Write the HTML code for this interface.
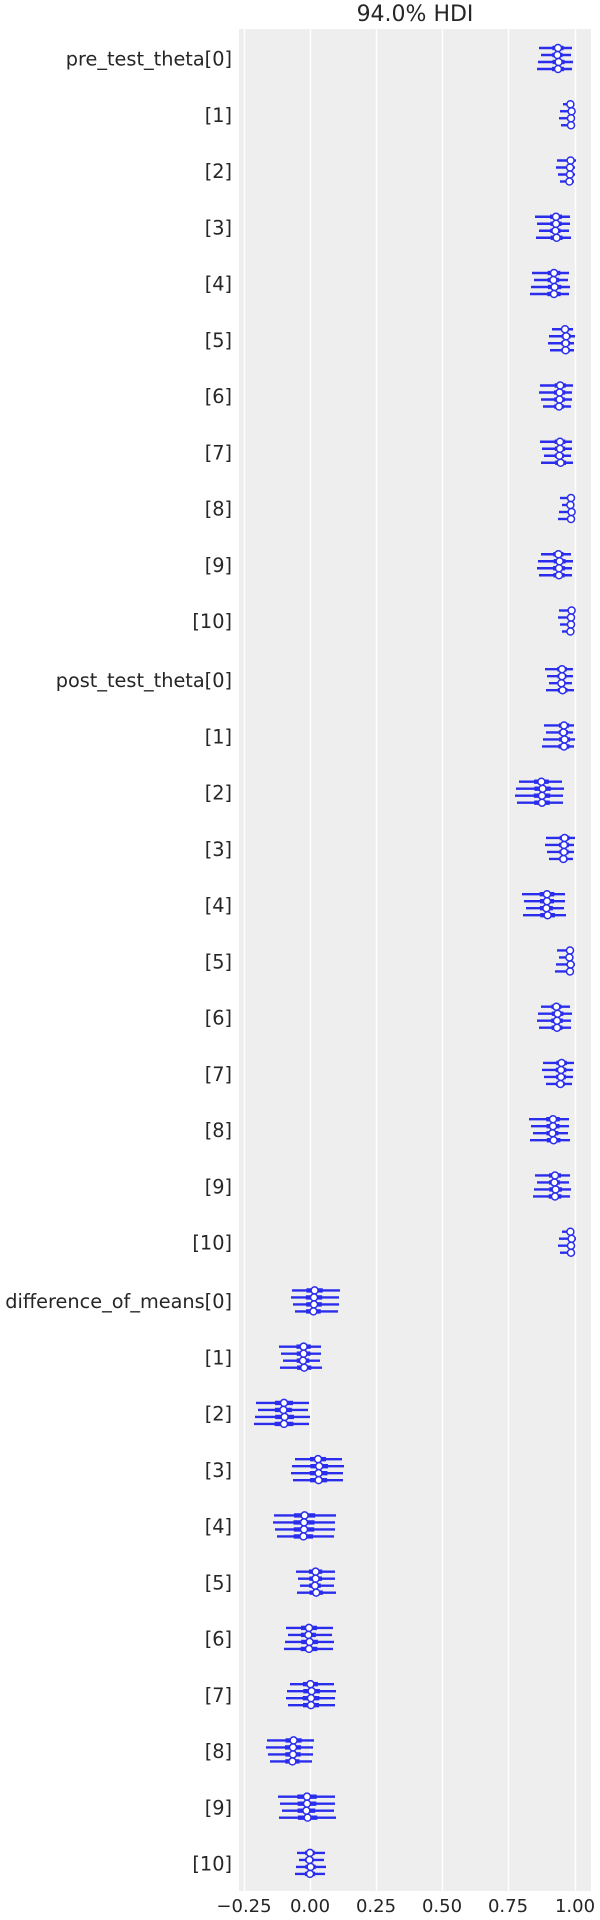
<!DOCTYPE html>
<html><head><meta charset="utf-8"><style>
html,body{margin:0;padding:0;background:#fff;width:600px;height:1920px;overflow:hidden}
svg{display:block}
text{font-family:"DejaVu Sans","Liberation Sans",sans-serif;fill:#262626}
</style></head><body>
<svg id="s" width="600" height="1920" viewBox="0 0 600 1920" xmlns="http://www.w3.org/2000/svg">
<rect x="239" y="29" width="352" height="1862" fill="#eeeeee"/>
<g stroke="#ffffff" stroke-width="1.5">
<line x1="244.5" y1="29" x2="244.5" y2="1891"/>
<line x1="310.5" y1="29" x2="310.5" y2="1891"/>
<line x1="376.5" y1="29" x2="376.5" y2="1891"/>
<line x1="442.5" y1="29" x2="442.5" y2="1891"/>
<line x1="508.5" y1="29" x2="508.5" y2="1891"/>
<line x1="575.5" y1="29" x2="575.5" y2="1891"/>
</g>
<text x="415" y="21" font-size="22" text-anchor="middle">94.0% HDI</text>
<g font-size="18" text-anchor="middle">
<text x="244" y="1912">−0.25</text>
<text x="310" y="1912">0.00</text>
<text x="376" y="1912">0.25</text>
<text x="442" y="1912">0.50</text>
<text x="508" y="1912">0.75</text>
<text x="575" y="1912">1.00</text>
</g>
<g font-size="19.3" text-anchor="end">
<text x="232" y="65.5">pre_test_theta[0]</text>
<text x="232" y="121.8">[1]</text>
<text x="232" y="178">[2]</text>
<text x="232" y="234.3">[3]</text>
<text x="232" y="290.5">[4]</text>
<text x="232" y="346.8">[5]</text>
<text x="232" y="403">[6]</text>
<text x="232" y="459.3">[7]</text>
<text x="232" y="515.5">[8]</text>
<text x="232" y="571.8">[9]</text>
<text x="232" y="628">[10]</text>
<text x="232" y="687">post_test_theta[0]</text>
<text x="232" y="743.3">[1]</text>
<text x="232" y="799.5">[2]</text>
<text x="232" y="855.8">[3]</text>
<text x="232" y="912">[4]</text>
<text x="232" y="968.3">[5]</text>
<text x="232" y="1024.5">[6]</text>
<text x="232" y="1080.8">[7]</text>
<text x="232" y="1137">[8]</text>
<text x="232" y="1193.3">[9]</text>
<text x="232" y="1249.5">[10]</text>
<text x="232" y="1308">difference_of_means[0]</text>
<text x="232" y="1364.3">[1]</text>
<text x="232" y="1420.5">[2]</text>
<text x="232" y="1476.8">[3]</text>
<text x="232" y="1533">[4]</text>
<text x="232" y="1589.3">[5]</text>
<text x="232" y="1645.5">[6]</text>
<text x="232" y="1701.8">[7]</text>
<text x="232" y="1758">[8]</text>
<text x="232" y="1814.3">[9]</text>
<text x="232" y="1870.5">[10]</text>
</g>
<g id="d"></g>
</svg>
<script>
var rows=[
[558,539,572],[571,561,573],[570,558,575],[556,537,570],[554,532,569],[565.6,550,574],[559.6,541,572],[560,542,572],[571,560,574],[559,539,572],[571,560,573],
[562,547,573],[564,544,574],[542,517,563],[564,547,574],[547,524,565],[570,557,574],[557,539,571],[561,544,573],[553,531,569],[555,535,570],[571,560,575],
[314,293,339],[303.6,281,321],[284,256,309],[318.6,293,343],[304,275,335],[315.6,298,335],[309,286,333],[311,288,335],[293,268,313],[307,280,335],[310,297,325]];
var jit=[[0,0,0],[-1,2,-1],[1,-1,1],[0,-2,0]];
var off=[-10.5,-3.5,3.5,10.5];
var s='',C='#2a2eec';
for(var i=0;i<rows.length;i++){
 var g=Math.floor(i/11),k=i%11;
 var cy=58.5+g*621.2+k*56.25;
 var r=rows[i];
 for(var c=0;c<4;c++){
  var y=cy+off[c],j=jit[(c+i)%4];
  var m=r[0]+j[0]*0.6,lo=r[1]+j[1],hi=r[2]+j[2];
  var w=(hi-lo);
  var q1=m-w*0.17,q3=m+w*0.17;
  s+='<line x1="'+lo+'" y1="'+y+'" x2="'+hi+'" y2="'+y+'" stroke="'+C+'" stroke-width="2.4"/>';
  s+='<line x1="'+q1+'" y1="'+y+'" x2="'+q3+'" y2="'+y+'" stroke="'+C+'" stroke-width="4.4"/>';
  s+='<circle cx="'+m+'" cy="'+y+'" r="3.5" fill="#ffffff" stroke="'+C+'" stroke-width="1.5"/>';
 }
}
document.getElementById('d').innerHTML=s;
</script>
</body></html>
